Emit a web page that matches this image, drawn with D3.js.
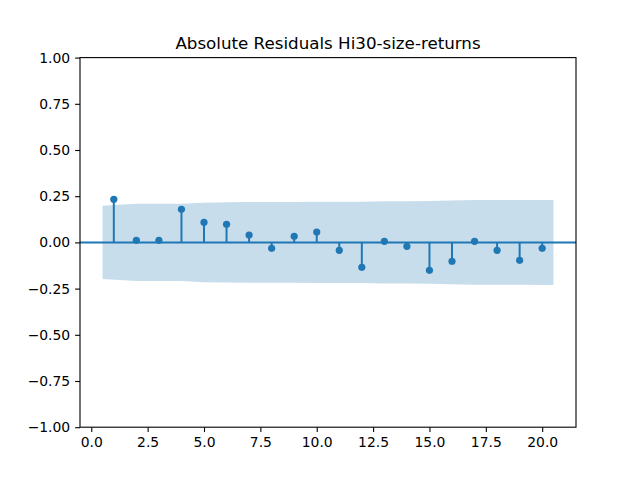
<!DOCTYPE html>
<html>
<head>
<meta charset="utf-8">
<script src="https://cdn.jsdelivr.net/npm/d3@7"></script>
<style>
  body { margin: 0; background: #fff; }
  text { font-family: "DejaVu Sans", sans-serif; fill: #000; }
</style>
</head>
<body>
<div id="chart"></div>
<script>
// lags and autocorrelation values
const lags = d3.range(1, 21);
const acfValues = [0.233, 0.011, 0.011, 0.179, 0.109, 0.098, 0.040, -0.032, 0.033, 0.056,
                   -0.043, -0.135, 0.006, -0.021, -0.151, -0.102, 0.006, -0.043, -0.097, -0.032];
// half-width of the confidence band per lag
const bandValues = [0.198, 0.209, 0.209, 0.209, 0.215, 0.217, 0.219, 0.219, 0.219, 0.220,
                    0.220, 0.220, 0.223, 0.223, 0.224, 0.227, 0.229, 0.229, 0.229, 0.230];
const xTicks = d3.range(0, 20.01, 2.5);
const yTicks = d3.range(-1, 1.01, 0.25);

const width = 640, height = 480;
const margin = { top: 57.6, right: 64, bottom: 52.8, left: 80 };
const blue = '#1f77b4';

const svg = d3.select('#chart').append('svg')
  .attr('width', width)
  .attr('height', height);

const x = d3.scaleLinear()
  .domain([-0.5, 21.5])
  .range([margin.left, width - margin.right]);

const y = d3.scaleLinear()
  .domain([-1, 1])
  .range([height - margin.bottom, margin.top]);

// confidence band, edges pushed out by half a lag
const bandX = lags.map((d, i) => i === 0 ? d - 0.5 : (i === lags.length - 1 ? d + 0.5 : d));
const band = d3.area()
  .x((d, i) => x(bandX[i]))
  .y0((d, i) => y(-bandValues[i]))
  .y1((d, i) => y(bandValues[i]));

svg.append('path')
  .datum(lags)
  .attr('d', band)
  .attr('fill', blue)
  .attr('fill-opacity', 0.25);

// zero line
svg.append('line')
  .attr('x1', x(-0.5)).attr('x2', x(21.5))
  .attr('y1', y(0)).attr('y2', y(0))
  .attr('stroke', blue)
  .attr('stroke-width', 2);

svg.selectAll('line.stem')
  .data(lags)
  .enter().append('line')
  .attr('class', 'stem')
  .attr('x1', d => x(d)).attr('x2', d => x(d))
  .attr('y1', y(0))
  .attr('y2', (d, i) => y(acfValues[i]))
  .attr('stroke', blue)
  .attr('stroke-width', 2);

svg.selectAll('circle.dot')
  .data(lags)
  .enter().append('circle')
  .attr('class', 'dot')
  .attr('cx', d => x(d))
  .attr('cy', (d, i) => y(acfValues[i]))
  .attr('r', 3.6)
  .attr('fill', blue);

// axes
const xAxis = svg.append('g')
  .attr('transform', `translate(0,${height - margin.bottom})`)
  .call(d3.axisBottom(x).tickValues(xTicks).tickFormat(d3.format('.1f')).tickSize(4.9).tickPadding(4.9));

const yAxis = svg.append('g')
  .attr('transform', `translate(${margin.left},0)`)
  .call(d3.axisLeft(y).tickValues(yTicks).tickFormat(d => d3.format('.2f')(d).replace('-', '\u2212')).tickSize(4.9).tickPadding(4.9));

[xAxis, yAxis].forEach(g => {
  g.select('.domain').remove();
  g.selectAll('line').attr('stroke', '#000').attr('stroke-width', 1.1);
  g.selectAll('text').style('font-size', '13.9px').attr('fill', '#000');
});

svg.append('rect')
  .attr('x', margin.left).attr('y', margin.top)
  .attr('width', width - margin.left - margin.right)
  .attr('height', height - margin.top - margin.bottom)
  .attr('fill', 'none')
  .attr('stroke', '#000')
  .attr('stroke-width', 1.1);

svg.append('text')
  .attr('x', (margin.left + width - margin.right) / 2)
  .attr('y', margin.top - 8.3)
  .attr('text-anchor', 'middle')
  .style('font-size', '16.7px')
  .text('Absolute Residuals Hi30-size-returns');
</script>
</body>
</html>
